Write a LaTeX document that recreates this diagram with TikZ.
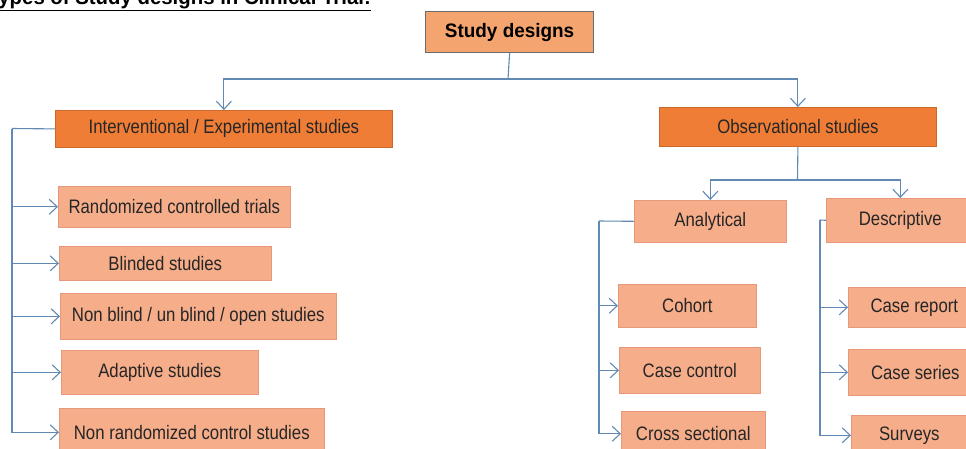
\documentclass[tikz,border=0pt]{standalone}
\usepackage{fontspec}
\usetikzlibrary{arrows.meta}
\newfontfamily\nfont{Liberation Sans}[FakeStretch=0.86]
\newfontfamily\bfont{Liberation Sans}[FakeStretch=0.97]
\definecolor{lightfill}{HTML}{F6AD8A}
\definecolor{lightline}{HTML}{E8987A}
\definecolor{darkfill}{HTML}{EF7D36}
\definecolor{darkline}{HTML}{C96A2C}
\definecolor{topfill}{HTML}{F4A46E}
\definecolor{topline}{HTML}{6B6B6B}
\definecolor{conncol}{HTML}{6189B4}
\definecolor{txtcol}{HTML}{262626}
\tikzset{
  boxbase/.style={anchor=north west, inner sep=0pt, text=txtcol,
    font=\nfont\fontsize{19.5}{22}\selectfont},
  lbox/.style={boxbase, fill=lightfill, draw=lightline, line width=0.6pt},
  dbox/.style={boxbase, fill=darkfill, draw=darkline, line width=0.8pt},
  tbox/.style={boxbase, fill=topfill, draw=topline, line width=1.2pt, text=black,
    font=\bfont\bfseries\fontsize{19.5}{22}\selectfont},
  conn/.style={draw=conncol, line width=1.1pt},
  arr/.style={conn, -{Straight Barb[length=8pt,width=15pt,line width=1.1pt]}}
}
\begin{document}
\begin{tikzpicture}[x=1pt,y=-1pt]
\useasboundingbox (0,0) rectangle (966,448);
\fill[white] (0,0) rectangle (966,448);
\clip (0,0) rectangle (966,448);
% title (cut off at top, as in the reference)
\node[anchor=base east, inner sep=0pt, text=black,
  font=\bfont\bfseries\fontsize{21}{24}\selectfont] (title) at (371,4.5)
  {\underline{Types of Study designs in Clinical Trial:}};
% boxes
\node[tbox, minimum width=168pt, minimum height=41pt] (sd) at (425,11) {Study designs};
\node[dbox, minimum width=337pt, minimum height=37pt] (iv) at (55,110) {Interventional / Experimental studies};
\node[dbox, minimum width=277pt, minimum height=39pt] (ob) at (659,107) {Observational studies};
\node[lbox, minimum width=232pt, minimum height=41pt] (rct) at (58,186) {Randomized controlled trials};
\node[lbox, minimum width=212pt, minimum height=34pt] (bl) at (59,246) {Blinded studies};
\node[lbox, minimum width=276pt, minimum height=46pt] (nb) at (60,293) {Non blind / un blind / open studies};
\node[lbox, minimum width=197pt, minimum height=44pt] (ad) at (61,350) {Adaptive studies};
\node[lbox, minimum width=265pt, minimum height=48pt] (nr) at (59,408) {Non randomized control studies};
\node[lbox, minimum width=152pt, minimum height=42pt] (an) at (634,200) {Analytical};
\node[lbox, minimum width=148pt, minimum height=44pt] (de) at (826,198) {Descriptive};
\node[lbox, minimum width=138pt, minimum height=43pt] (co) at (618,284) {Cohort};
\node[lbox, minimum width=141pt, minimum height=46pt] (cc) at (619,347) {Case control};
\node[lbox, minimum width=144pt, minimum height=45pt] (cs) at (621,411) {Cross sectional};
\node[lbox, minimum width=132pt, minimum height=40pt] (cr) at (848,287) {Case report};
\node[lbox, minimum width=134pt, minimum height=46pt] (cse) at (848,349) {Case series};
\node[lbox, minimum width=116pt, minimum height=40pt] (su) at (851,415) {Surveys};
% connectors
\coordinate (j1) at (508,79);
\draw[conn] (sd.south) -- (j1);
\draw[arr] (j1) -| (iv.north);
\draw[arr] (j1) -| (ob.north);
\coordinate (ls) at (12,128.5);
\draw[conn] (iv.west) -- (ls);
\foreach \b in {rct,bl,nb,ad,nr} {\draw[arr] (ls) |- (\b.west);}
\coordinate (j2) at (797.5,180);
\draw[conn] (ob.south) -- (j2);
\draw[arr] (j2) -| (an.north);
\draw[arr] (j2) -| (de.north);
\coordinate (al) at (599,221);
\draw[conn] (an.west) -- (al);
\foreach \b in {co,cc,cs} {\draw[arr] (al) |- (\b.west);}
\coordinate (dl) at (820,220);
\draw[conn] (de.west) -- (dl);
\foreach \b in {cr,cse,su} {\draw[arr] (dl) |- (\b.west);}
\end{tikzpicture}
\end{document}
